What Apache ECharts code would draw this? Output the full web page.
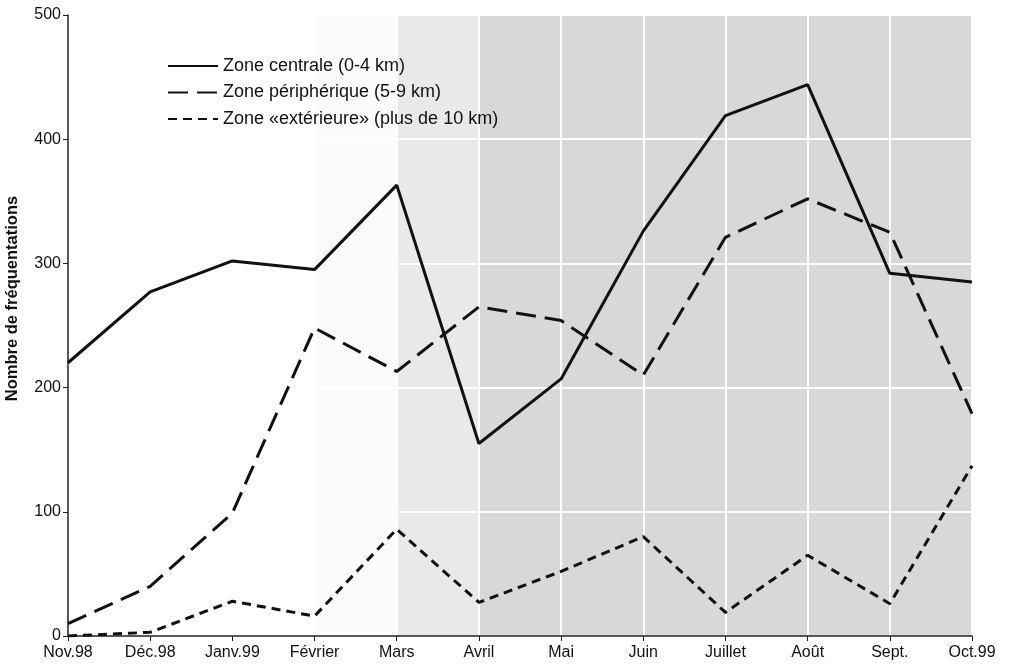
<!DOCTYPE html>
<html><head><meta charset="utf-8">
<script src="https://cdn.jsdelivr.net/npm/echarts@6/dist/echarts.min.js"></script>
<style>html,body{margin:0;padding:0;background:#fff}#c{width:1011px;height:665px}</style>
</head><body><div id="c"></div>
<script>
const categories = ['Nov.98','Déc.98','Janv.99','Février','Mars','Avril','Mai','Juin','Juillet','Août','Sept.','Oct.99'];
const centrale = [220, 277, 302, 295, 363, 155, 207, 326, 419, 444, 292, 285];
const peripherique = [10, 40, 99, 248, 213, 265, 254, 210, 321, 352, 325, 179];
const exterieure = [0, 3, 28, 16, 86, 27, 52, 80, 19, 65, 26, 137];
const yTicks = [0, 100, 200, 300, 400, 500];
const names = ['Zone centrale (0-4 km)', 'Zone périphérique (5-9 km)', 'Zone «extérieure» (plus de 10 km)'];
const font = 'Liberation Sans, Arial, sans-serif';

const chart = echarts.init(document.getElementById('c'), null, {renderer:'canvas'});
chart.setOption({
  animation: false,
  backgroundColor: '#fff',
  grid: {left: 68, right: 39, top: 15, bottom: 29, containLabel: false, outerBoundsMode: 'none'},
  legend: {
    orient: 'vertical', left: 162, top: 52, itemWidth: 50, itemHeight: 18, itemGap: 8.5,
    textStyle: {fontFamily: font, fontSize: 18, color: '#111'},
    itemStyle: {opacity: 0},
    data: names
  },
  xAxis: {
    type: 'category', data: categories, boundaryGap: false, z: 1,
    axisLine: {lineStyle: {color: '#222', width: 1.5}},
    axisTick: {show: true, alignWithLabel: true, length: 5, lineStyle: {color: '#222'}},
    axisLabel: {fontFamily: font, fontSize: 16, color: '#111', margin: 9},
    splitLine: {show: true, lineStyle: {color: '#fff', width: 2}}
  },
  yAxis: {
    type: 'value', min: yTicks[0], max: yTicks[yTicks.length-1], interval: 100, z: 1,
    name: 'Nombre de fréquentations', nameLocation: 'middle', nameGap: 47, nameMoveOverlap: false,
    nameTextStyle: {fontFamily: font, fontSize: 16.5, fontWeight: 'bold', color: '#111', padding: [0, 0, 0, 54]},
    axisLine: {show: true, lineStyle: {color: '#222', width: 1.5}},
    axisTick: {show: true, length: 5, lineStyle: {color: '#222'}},
    axisLabel: {fontFamily: font, fontSize: 16, color: '#111', margin: 7},
    splitLine: {show: true, lineStyle: {color: '#fff', width: 2}}
  },
  series: [
    {
      type: 'line', name: 'bg', data: [], z: -1, silent: true,
      markArea: {
        silent: true, z: -1,
        data: [
          [{xAxis: 'Février', itemStyle: {color: '#fbfbfb'}}, {xAxis: 'Mars'}],
          [{xAxis: 'Mars', itemStyle: {color: '#e9e9e9'}}, {xAxis: 'Avril'}],
          [{xAxis: 'Avril', itemStyle: {color: '#d8d8d8'}}, {xAxis: 'Oct.99'}]
        ]
      }
    },
    {type: 'line', name: names[0], data: centrale, symbol: 'none', z: 5,
      lineStyle: {color: '#111', width: 3, type: 'solid'}, itemStyle: {color: '#111'}},
    {type: 'line', name: names[1], data: peripherique, symbol: 'none', z: 5,
      lineStyle: {color: '#111', width: 3, type: [20, 9]}, itemStyle: {color: '#111'}},
    {type: 'line', name: names[2], data: exterieure, symbol: 'none', z: 5,
      lineStyle: {color: '#111', width: 3, type: [9, 6]}, itemStyle: {color: '#111'}}
  ]
});
</script></body></html>
